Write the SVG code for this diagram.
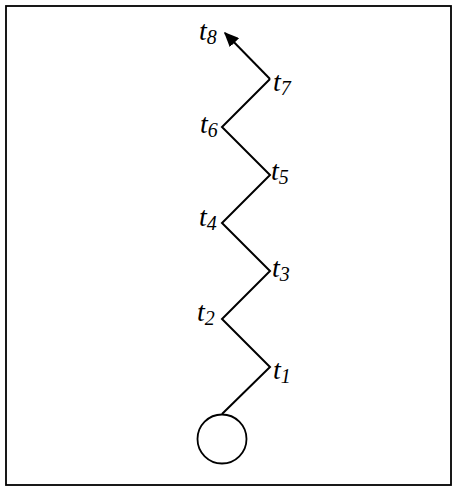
<svg xmlns="http://www.w3.org/2000/svg" width="455" height="487" viewBox="0 0 455 487">
<style>
.e{fill:none;stroke:#000;stroke-width:2}
text{font-family:"Liberation Serif","Times New Roman",serif;font-style:italic;font-size:28px;fill:#000}
tspan{font-size:20px}
</style>
<defs>
<marker id="ah" viewBox="0 0 10 10" refX="9" refY="5" markerWidth="15" markerHeight="13" markerUnits="userSpaceOnUse" orient="auto" preserveAspectRatio="none">
<path d="M0,0 L10,5 L0,10 Z" fill="#000"/>
</marker>
</defs>
<rect x="6" y="6" width="445" height="479" fill="#fff" stroke="#000" stroke-width="1.8"/>
<g id="connectors">
<polyline class="e" points="222,414 270,367 222,319 270,271 222,223 270,175 222,127 270,79"/>
<line class="e" x1="270" y1="79" x2="225" y2="33" marker-end="url(#ah)"/>
</g>
<g id="start"><circle cx="222" cy="439" r="24.5" fill="#fff" stroke="#000" stroke-width="1.8"/></g>
<g id="t1"><text x="273" y="379">t<tspan dy="4">1</tspan></text></g>
<g id="t2"><text x="197" y="321">t<tspan dy="4">2</tspan></text></g>
<g id="t3"><text x="272" y="277">t<tspan dy="4">3</tspan></text></g>
<g id="t4"><text x="199" y="226">t<tspan dy="4">4</tspan></text></g>
<g id="t5"><text x="271" y="180">t<tspan dy="4">5</tspan></text></g>
<g id="t6"><text x="200" y="133">t<tspan dy="4">6</tspan></text></g>
<g id="t7"><text x="273" y="91">t<tspan dy="4">7</tspan></text></g>
<g id="t8"><text x="199" y="40">t<tspan dy="4">8</tspan></text></g>
</svg>
